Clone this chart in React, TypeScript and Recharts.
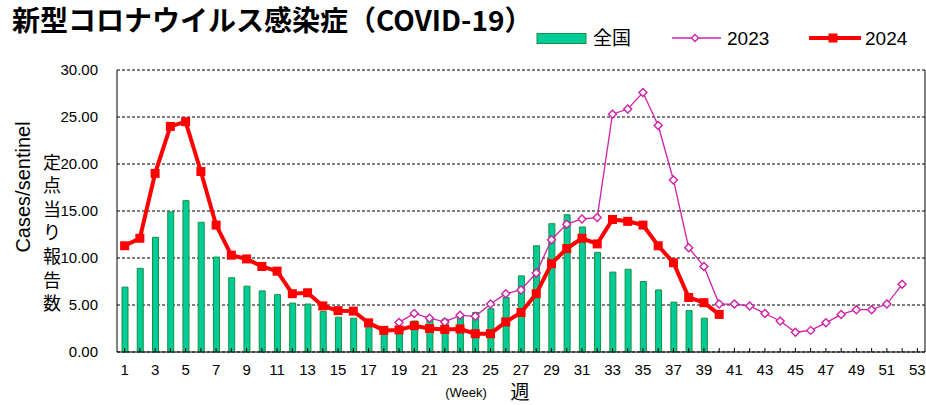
import React from "react";
import {
  ComposedChart,
  Bar,
  Line,
  XAxis,
  YAxis,
  CartesianGrid,
} from "recharts";

// 週 (week numbers)
const weeks = Array.from({ length: 53 }, (_, i) => i + 1);

// 全国 定点当り報告数 (weeks 1–39)
const national = [
  6.9, 8.9, 12.2, 14.9, 16.1, 13.8, 10.1, 7.9, 7.0, 6.5,
  6.1, 5.2, 5.1, 4.3, 3.7, 3.6, 2.7, 2.0, 2.1, 3.3,
  3.4, 3.5, 3.8, 4.2, 4.6, 5.8, 8.1, 11.3, 13.65, 14.6,
  13.3, 10.6, 8.5, 8.8, 7.5, 6.6, 5.3, 4.4, 3.6,
];

// 2024 (weeks 1–40)
const cases2024 = [
  11.3, 12.1, 19.0, 24.0, 24.5, 19.2, 13.5, 10.3, 9.9, 9.1,
  8.6, 6.2, 6.3, 4.9, 4.4, 4.35, 3.1, 2.3, 2.35, 2.8,
  2.5, 2.4, 2.45, 1.95, 1.95, 3.2, 4.2, 6.2, 9.4, 11.0,
  12.1, 11.5, 14.1, 13.9, 13.5, 11.3, 9.5, 5.8, 5.25, 4.0,
];

// 2023 (weeks 19–52)
const start2023 = 19;
const cases2023 = [
  3.15, 4.1, 3.6, 3.2, 3.9, 3.8, 5.1, 6.2, 6.6, 8.4,
  11.95, 13.6, 14.15, 14.3, 25.3, 25.85, 27.6, 24.1, 18.3, 11.1,
  9.1, 5.1, 5.1, 4.9, 4.1, 3.3, 2.1, 2.3, 3.1, 4.0,
  4.5, 4.5, 5.1, 7.2,
];

const yTicks = [0, 5, 10, 15, 20, 25, 30];

const data = weeks.map((w, i) => ({
  week: w,
  national: national[i] ?? null,
  y2024: cases2024[i] ?? null,
  y2023: w >= start2023 ? cases2023[w - start2023] ?? null : null,
}));

const SANS = '"Liberation Sans", Arial, sans-serif';
const JP = '"Noto Sans CJK JP", sans-serif';
const GREEN = "#00cc99";
const GREEN_EDGE = "#1a8f3c";
const MAGENTA = "#d01fa8";
const RED = "#ff0000";

function WeekTick(props: any) {
  const { x, y, payload } = props;
  if (payload.value % 2 === 0) return <g />;
  return (
    <text x={x} y={y} textAnchor="middle" fontSize={15} fontFamily={SANS} fill="#000">
      {payload.value}
    </text>
  );
}

function Diamond(props: any) {
  const { cx, cy, key } = props;
  if (cx == null || cy == null || props.value == null) return <g key={key} />;
  const r = 4;
  return (
    <path
      key={key}
      d={`M${cx},${cy - r}L${cx + r},${cy}L${cx},${cy + r}L${cx - r},${cy}Z`}
      fill="#fff"
      stroke={MAGENTA}
      strokeWidth={1.4}
    />
  );
}

function Square(props: any) {
  const { cx, cy, key } = props;
  if (cx == null || cy == null || props.value == null) return <g key={key} />;
  return <rect key={key} x={cx - 4.5} y={cy - 4.5} width={9} height={9} fill={RED} />;
}

function LegendBox() {
  return (
    <g transform="translate(530,22)">
      <rect x={7} y={11.5} width={49} height={10} fill={GREEN} stroke={GREEN_EDGE} />
      <text x={63} y={23} fontSize={19} fontFamily={JP}>全国</text>
      <line x1={142} x2={191} y1={16} y2={16} stroke={MAGENTA} strokeWidth={1.3} />
      <path d="M165,12.5L168.5,16L165,19.5L161.5,16Z" fill="#fff" stroke={MAGENTA} strokeWidth={1.3} />
      <text x={197} y={23} fontSize={19} fontFamily={SANS}>2023</text>
      <line x1={279} x2={331} y1={16} y2={16} stroke={RED} strokeWidth={4} />
      <rect x={298.5} y={11.5} width={9} height={9} fill={RED} />
      <text x={335} y={23} fontSize={19} fontFamily={SANS}>2024</text>
    </g>
  );
}

const yLabelJp = "定点当り報告数".split("");

export default function App() {
  return (
    <div style={{ position: "absolute", left: 0, top: 0, width: 926, height: 405, background: "#fff" }}>
      <ComposedChart
        width={926}
        height={405}
        data={data}
        margin={{ top: 70, right: 0, bottom: 0, left: 0 }}
      >
        <CartesianGrid vertical={false} stroke="#000" strokeDasharray="3 2" />
        <XAxis
          dataKey="week"
          interval={0}
          height={53}
          tickSize={-4}
          tickMargin={27}
          tick={<WeekTick />}
          stroke="#000"
          tickLine={{ stroke: "#000" }}
        />
        <XAxis xAxisId="top" dataKey="week" orientation="top" height={0} tick={false} tickLine={false} stroke="#000" />
        <YAxis
          domain={[0, 30]}
          ticks={yTicks}
          width={117}
          tickSize={0}
          tickMargin={19}
          tickLine={false}
          stroke="#000"
          tickFormatter={(v: number) => v.toFixed(2)}
          tick={{ fill: "#000", fontSize: 15, fontFamily: SANS }}
        />
        <YAxis yAxisId="r" orientation="right" width={1} domain={[0, 30]} tick={false} tickLine={false} stroke="#000" />
        <Bar
          dataKey="national"
          name="全国"
          barSize={6}
          fill={GREEN}
          stroke={GREEN_EDGE}
          strokeWidth={1}
          isAnimationActive={false}
        />
        <Line
          dataKey="y2023"
          name="2023"
          type="linear"
          stroke={MAGENTA}
          strokeWidth={1.3}
          dot={<Diamond />}
          activeDot={false}
          isAnimationActive={false}
        />
        <Line
          dataKey="y2024"
          name="2024"
          type="linear"
          stroke={RED}
          strokeWidth={4}
          dot={<Square />}
          activeDot={false}
          isAnimationActive={false}
        />
      </ComposedChart>
      <svg
        width={926}
        height={405}
        style={{ position: "absolute", left: 0, top: 0, pointerEvents: "none" }}
      >
        <text x={12} y={31} fontSize={28} fontWeight="bold" fontFamily={JP} fill="#000">
          新型コロナウイルス感染症（COVID-19）
        </text>
        <LegendBox />
        <text
          transform="translate(30,187) rotate(-90)"
          textAnchor="middle"
          fontSize={20}
          fontFamily={SANS}
          fill="#000"
        >
          Cases/sentinel
        </text>
        {yLabelJp.map((ch, i) => (
          <text
            key={i}
            x={52}
            y={162 + i * 23.6 + 6.5}
            textAnchor="middle"
            fontSize={18}
            fontFamily={JP}
            fill="#000"
          >
            {ch}
          </text>
        ))}
        <text x={466} y={397} textAnchor="middle" fontSize={13} fontFamily={SANS} fill="#000">
          (Week)
        </text>
        <text x={520} y={399} textAnchor="middle" fontSize={19} fontFamily={JP} fill="#000">
          週
        </text>
      </svg>
    </div>
  );
}
